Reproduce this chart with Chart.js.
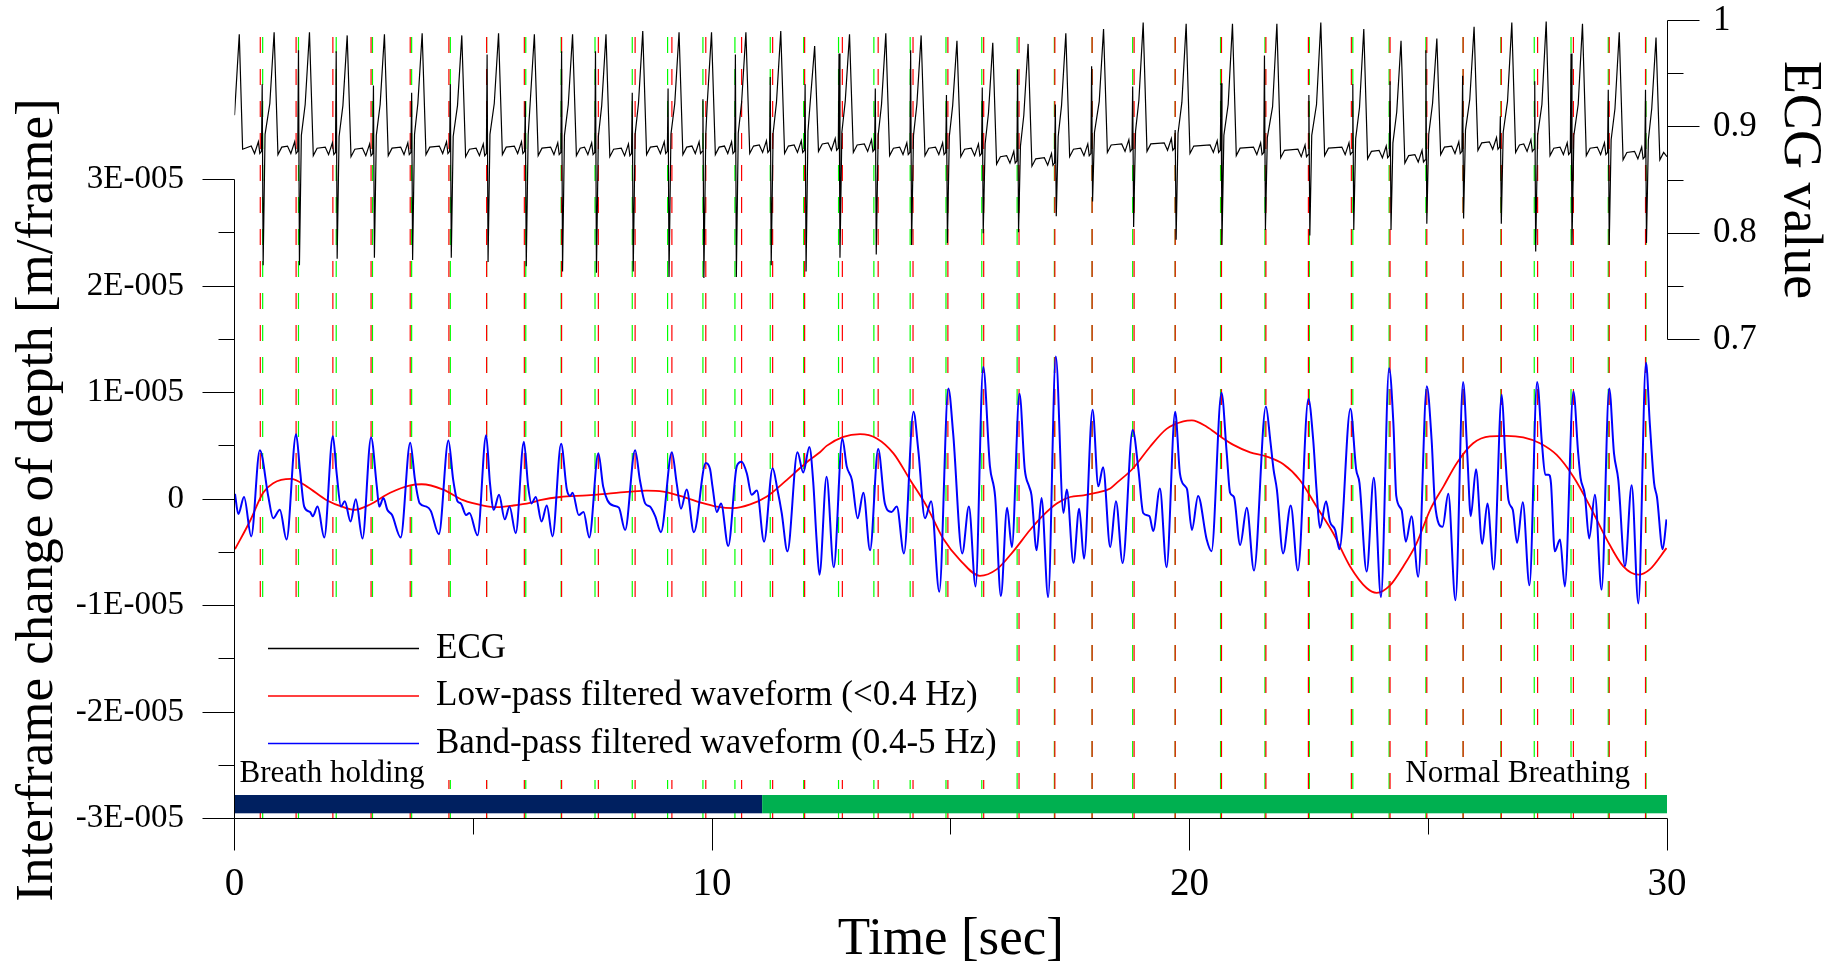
<!DOCTYPE html>
<html>
<head>
    <meta charset="UTF-8">
    <title>Interframe change of depth and ECG</title>
    <script src="https://cdn.jsdelivr.net/npm/chart.js"></script>
    <style>
        html, body { margin: 0; padding: 0; background: #fff; }
        #wrap { width: 1841px; height: 964px; position: relative; }
    </style>
</head>
<body>
<div id="wrap"><canvas id="depthChart"></canvas></div>

<script>
    // ---- data ----
    // depth values are in units of 1E-006 m/frame

    // band-pass filtered waveform (0.4-5 Hz)
    const bandPassTimes = [
        0.01, 0.08, 0.20, 0.35, 0.53, 0.71, 0.81, 0.95, 1.09, 1.29,
        1.37, 1.46, 1.58, 1.64, 1.74, 1.88, 2.06, 2.14, 2.23, 2.31,
        2.43, 2.54, 2.68, 2.86, 2.98, 3.03, 3.12, 3.20, 3.30, 3.48,
        3.68, 3.78, 3.88, 4.02, 4.11, 4.28, 4.48, 4.58, 4.67, 4.74,
        4.85, 4.92, 5.09, 5.27, 5.35, 5.43, 5.54, 5.66, 5.76, 5.89,
        6.06, 6.15, 6.22, 6.31, 6.43, 6.54, 6.66, 6.84, 6.96, 7.03,
        7.08, 7.21, 7.31, 7.43, 7.62, 7.72, 7.81, 7.93, 8.05, 8.18,
        8.39, 8.49, 8.60, 8.70, 8.81, 8.93, 9.16, 9.26, 9.35, 9.47,
        9.62, 9.87, 9.96, 10.01, 10.10, 10.19, 10.34, 10.52, 10.62, 10.73,
        10.83, 10.94, 11.09, 11.27, 11.37, 11.46, 11.58, 11.79, 11.91, 12.04,
        12.12, 12.19, 12.25, 12.40, 12.55, 12.73, 12.82, 12.93, 13.05, 13.17,
        13.31, 13.48, 13.62, 13.76, 13.87, 14.02, 14.22, 14.32, 14.46, 14.59,
        14.76, 14.95, 15.05, 15.24, 15.38, 15.52, 15.68, 15.82, 15.93, 16.05,
        16.18, 16.28, 16.44, 16.55, 16.64, 16.69, 16.80, 16.90, 17.04, 17.20,
        17.36, 17.43, 17.57, 17.69, 17.79, 17.97, 18.09, 18.19, 18.34, 18.46,
        18.60, 18.81, 18.93, 19.03, 19.16, 19.24, 19.38, 19.52, 19.70, 19.80,
        19.91, 19.95, 20.05, 20.18, 20.36, 20.46, 20.67, 20.78, 20.85, 20.93,
        21.06, 21.20, 21.35, 21.60, 21.69, 21.76, 21.83, 21.96, 22.12, 22.27,
        22.49, 22.59, 22.66, 22.73, 22.86, 22.94, 23.05, 23.14, 23.37, 23.49,
        23.56, 23.71, 23.86, 24.01, 24.18, 24.27, 24.33, 24.44, 24.53, 24.65,
        24.79, 24.97, 25.07, 25.14, 25.30, 25.42, 25.57, 25.73, 25.82, 25.89,
        26.00, 26.13, 26.24, 26.37, 26.54, 26.61, 26.68, 26.77, 26.86, 26.98,
        27.12, 27.28, 27.38, 27.45, 27.52, 27.57, 27.65, 27.76, 27.86, 28.04,
        28.14, 28.19, 28.28, 28.37, 28.49, 28.63, 28.79, 28.89, 28.98, 29.12,
        29.26, 29.40, 29.56, 29.64, 29.73, 29.79, 29.91, 29.99
    ];
    const bandPassValues = [
        0.5, -1.4, 0.2, -3.5, 4.6, 0.2, -1.8, -1.0, -3.8, 6.1,
        2.8, -0.7, -1.2, -1.6, -0.7, -3.6, 5.9, 2.4, -0.7, -0.2,
        -2.1, 0.0, -3.7, 5.8, 1.2, -0.7, 0.1, -1.0, -1.5, -3.6,
        5.3, 1.8, -0.4, -0.7, -1.1, -3.3, 5.5, 1.8, -0.2, -0.4,
        -1.5, -1.3, -3.4, 6.0, 1.5, -1.0, 0.4, -1.9, -0.7, -3.2,
        5.4, 1.2, -0.4, 0.2, -2.1, -0.6, -3.5, 5.2, 0.9, 0.3,
        0.6, -1.5, -1.2, -3.6, 4.3, 1.2, -0.1, -0.6, -0.8, -2.9,
        4.6, 1.8, -0.4, -0.7, -1.6, -3.1, 4.4, 1.5, -0.9, 0.9,
        -3.1, 3.4, 2.8, 1.2, -1.2, -0.4, -4.4, 3.1, 3.5, 2.4,
        0.4, 0.8, -4.0, 2.9, 0.9, -1.3, -4.9, 4.4, 2.5, 4.9,
        1.6, -3.8, -7.1, 2.1, -6.4, 5.7, 3.1, 1.8, -1.8, 0.6,
        -4.8, 4.7, -0.4, -1.2, -0.7, -5.1, 8.2, 4.6, -1.8, -0.2,
        -8.7, 10.4, 6.2, -5.1, -0.7, -8.2, 12.4, 3.1, 0.2, -9.1,
        -0.8, -4.5, 9.9, 2.8, 1.2, 0.4, -4.8, 0.1, -9.2, 13.4,
        -1.3, 0.9, -6.0, -0.9, -5.6, 8.4, 1.2, 3.0, -4.5, -0.2,
        -6.0, 6.5, 2.8, -1.3, -1.6, -3.0, 1.0, -6.4, 8.2, 2.4,
        1.2, 0.9, -2.9, 0.3, -3.8, -4.9, 10.0, 4.3, 0.6, 0.2,
        -4.3, -0.8, -6.7, 8.7, 5.6, 2.8, 0.9, -5.1, -0.6, -6.7,
        9.4, 5.6, 0.9, -2.7, -0.2, -2.1, -2.9, -4.7, 8.5, 2.8,
        1.5, -6.8, 2.0, -9.2, 12.3, 7.1, 0.3, -1.0, -4.0, -1.6,
        -7.3, 10.6, 5.6, -0.4, -2.6, 0.5, -9.5, 11.0, 4.0, -1.6,
        2.8, -4.2, -0.4, -6.6, 9.8, 4.3, -0.1, -1.0, -4.1, -0.3,
        -8.1, 11.0, 5.3, 2.3, 2.3, 1.5, -4.9, -3.8, -8.2, 10.1,
        4.3, 2.0, 0.4, -3.7, 0.4, -8.5, 10.4, 4.3, 1.8, -6.3,
        1.3, -9.8, 12.8, 7.1, 1.5, 0.2, -4.7, -1.9
    ];

    // low-pass filtered waveform (<0.4 Hz)
    const lowPassTimes = [
        0.01, 0.32, 0.60, 0.81, 1.18, 1.51, 1.93, 2.31, 2.52, 2.84,
        3.26, 3.68, 3.92, 4.37, 4.79, 5.21, 5.49, 5.84, 6.19, 6.40,
        6.82, 7.38, 7.79, 8.28, 8.63, 8.98, 9.33, 9.75, 10.10, 10.45,
        10.80, 11.15, 11.49, 11.84, 12.05, 12.26, 12.40, 12.75, 13.10, 13.45,
        13.80, 14.15, 14.50, 14.84, 15.19, 15.61, 15.96, 16.31, 16.66, 16.94,
        17.22, 17.50, 17.78, 18.06, 18.34, 18.47, 18.82, 19.17, 19.52, 19.87,
        20.05, 20.36, 20.64, 20.92, 21.27, 21.62, 21.96, 22.31, 22.66, 23.01,
        23.36, 23.71, 23.92, 24.20, 24.48, 24.76, 25.04, 25.32, 25.60, 25.94,
        26.29, 26.64, 26.99, 27.34, 27.69, 28.04, 28.39, 28.74, 29.08, 29.40,
        29.64, 29.99
    ];
    const lowPassValues = [
        -4.7, -2.1, 0.6, 1.5, 1.9, 1.2, -0.1, -0.8, -1.0, -0.5,
        0.6, 1.3, 1.4, 0.9, -0.1, -0.6, -0.75, -0.6, -0.35, -0.1,
        0.2, 0.35, 0.5, 0.7, 0.8, 0.7, 0.3, -0.3, -0.7, -0.85,
        -0.5, 0.25, 1.5, 2.9, 3.7, 4.4, 5.0, 5.85, 6.1, 5.7,
        4.3, 1.8, -0.7, -3.7, -5.7, -7.2, -6.6, -4.9, -2.9, -1.5,
        -0.4, 0.2, 0.35, 0.6, 1.0, 1.5, 2.9, 4.9, 6.6, 7.3,
        7.4, 6.8, 5.9, 5.1, 4.4, 4.0, 3.3, 1.8, -0.7, -3.2,
        -6.3, -8.35, -8.8, -8.1, -6.3, -4.1, -1.0, 1.2, 3.4, 5.25,
        5.9, 5.95, 5.8, 5.25, 4.15, 2.1, -0.7, -3.8, -6.3, -7.1,
        -6.6, -4.6
    ];

    // ECG, one entry per heart beat (times in s, values on the ECG axis)
    const ecgBeatTimes = [
        0.59, 1.35, 2.14, 2.92, 3.72, 4.53, 5.30, 6.10, 6.86, 7.57, 8.34, 9.09, 9.82,
        10.50, 11.23, 11.96, 12.67, 13.43, 14.17, 14.92, 15.67, 16.41, 17.20, 17.96, 18.82, 19.71,
        20.67, 21.58, 22.51, 23.43, 24.21, 24.96, 25.73, 26.52, 27.24, 28.00, 28.78, 29.56
    ];
    const ecgRValues = [
        0.940, 0.972, 0.971, 0.939, 0.932, 0.940, 0.968, 0.924, 0.971, 0.971, 0.932, 0.936, 0.926,
        0.968, 0.947, 0.940, 0.969, 0.936, 0.972, 0.930, 0.937, 0.954, 0.921, 0.957, 0.938, 0.897,
        0.941, 0.967, 0.930, 0.940, 0.943, 0.972, 0.948, 0.910, 0.943, 0.969, 0.935, 0.935
    ];
    const ecgSValues = [
        0.770, 0.770, 0.776, 0.777, 0.775, 0.777, 0.773, 0.769, 0.764, 0.763, 0.764, 0.759, 0.758,
        0.759, 0.770, 0.764, 0.777, 0.780, 0.789, 0.791, 0.800, 0.801, 0.816, 0.830, 0.806, 0.794,
        0.789, 0.803, 0.798, 0.803, 0.803, 0.809, 0.814, 0.809, 0.783, 0.789, 0.789, 0.791
    ];
    const ecgPeakTimes = [
        0.83, 1.57, 2.36, 3.14, 3.93, 4.76, 5.53, 6.28, 7.08, 7.78, 8.55, 9.31, 9.99,
        10.71, 11.44, 12.15, 12.88, 13.64, 14.38, 15.13, 15.88, 16.62, 17.41, 18.20, 19.03, 19.93,
        20.90, 21.83, 22.75, 23.65, 24.43, 25.18, 25.96, 26.75, 27.47, 28.23, 29.00, 29.77
    ];
    const ecgPeakValues = [
        0.989, 0.989, 0.986, 0.987, 0.988, 0.986, 0.988, 0.987, 0.987, 0.987, 0.990, 0.989, 0.989,
        0.989, 0.990, 0.976, 0.987, 0.988, 0.986, 0.981, 0.979, 0.978, 0.988, 0.992, 0.998, 0.997,
        0.997, 0.997, 0.998, 0.992, 0.981, 0.983, 0.994, 0.998, 0.999, 0.997, 0.989, 0.984
    ];
    // resting level before the first beat and after each beat
    const ecgBaseline = [
        0.877,
        0.877, 0.876, 0.875, 0.876, 0.877, 0.875, 0.877, 0.876, 0.876, 0.875, 0.877, 0.877, 0.877,
        0.878, 0.878, 0.880, 0.879, 0.876, 0.876, 0.875, 0.868, 0.866, 0.875, 0.879, 0.880, 0.878,
        0.876, 0.874, 0.876, 0.873, 0.869, 0.877, 0.881, 0.879, 0.876, 0.876, 0.872, 0.872
    ];
    // partial beat at the very start of the trace
    const ecgStartTimes = [0, 0.10, 0.17];
    const ecgStartValues = [0.911, 0.987, 0.879];

    // beat markers (dashed vertical lines)
    const redBeatTimes = [
        0.54, 1.29, 2.06, 2.86, 3.68, 4.49, 5.28, 6.07, 6.85, 7.62, 8.39, 9.16, 9.87,
        10.62, 11.27, 11.94, 12.73, 13.48, 14.21, 14.94, 15.69, 16.43, 17.18, 17.96, 18.84, 19.70,
        20.67, 21.60, 22.49, 23.39, 24.20, 24.97, 25.73, 26.53, 27.29, 28.04, 28.79, 29.55
    ];
    const greenBeatTimes = [
        0.59, 1.34, 2.13, 2.89, 3.71, 4.52, 5.28, 6.10, 6.84, 7.55, 8.33, 9.07, 9.81,
        10.48, 11.22, 11.92, 12.65, 13.39, 14.15, 14.90, 15.65, 16.39, 17.17, 17.96, 18.81, 19.70,
        20.65, 21.58, 22.51, 23.42, 24.18, 24.95, 25.73, 26.52, 27.22, 27.99, 28.77, 29.56
    ];

    // breathing phases shown as a bar along the time axis
    const phaseNames = ['Breath holding', 'Normal Breathing'];
    const phaseStart = [0, 11.05];
    const phaseEnd = [11.05, 30];
    const phaseColors = ['#002060', '#00B050'];

    // tick labels
    const depthTickValues = [-30, -20, -10, 0, 10, 20, 30];
    const depthTickLabels = ['-3E-005', '-2E-005', '-1E-005', '0', '1E-005', '2E-005', '3E-005'];
    const ecgTickValues = [0.7, 0.8, 0.9, 1];
    const ecgTickLabels = ['0.7', '0.8', '0.9', '1'];
    const timeTickValues = [0, 10, 20, 30];
    const timeTickLabels = ['0', '10', '20', '30'];

    const xTitle = 'Time [sec]';
    const yTitle = 'Interframe change of depth [m/frame]';
    const y2Title = 'ECG value';

    // ---- helpers ----
    const SERIF = '"Liberation Serif", "Times New Roman", serif';
    const MARKER_TOP = 43.4;   // markers start just under the top of the ECG

    function toPoints(xs, ys) {
        return xs.map((t, i) => ({ x: t, y: ys[i] }));
    }

    function labelFor(values, labels, v) {
        const i = values.findIndex(t => Math.abs(t - v) < 1e-6);
        return i < 0 ? '' : labels[i];
    }

    // one vertical line per beat, broken apart by null points
    function markerLines(times) {
        const pts = [];
        times.forEach(t => {
            pts.push({ x: t, y: MARKER_TOP }, { x: t, y: -30 }, { x: t, y: null });
        });
        return pts;
    }

    // ECG trace: each beat = small notch, R/S spike, slow rise, sharp peak, back to rest
    function buildEcg() {
        const pts = toPoints(ecgStartTimes, ecgStartValues);
        for (let i = 0; i < ecgBeatTimes.length; i++) {
            const td = ecgBeatTimes[i], tp = ecgPeakTimes[i];
            const b0 = ecgBaseline[i], b1 = ecgBaseline[i + 1];
            pts.push({ x: td - 0.24, y: b0 + 0.005 });
            pts.push({ x: td - 0.17, y: b0 - 0.002 });
            pts.push({ x: td - 0.09, y: b0 + 0.009 });
            pts.push({ x: td - 0.06, y: b0 - 0.002 });
            pts.push({ x: td - 0.025, y: b0 });
            pts.push({ x: td - 0.01, y: ecgRValues[i] });
            pts.push({ x: td + 0.01, y: ecgSValues[i] });
            pts.push({ x: td + 0.05, y: b1 + 0.016 });
            pts.push({ x: tp - 0.09, y: b1 + 0.045 });
            pts.push({ x: tp, y: ecgPeakValues[i] });
            pts.push({ x: tp + 0.08, y: b1 - 0.003 });
            pts.push({ x: tp + 0.16, y: b1 + 0.004 });
        }
        pts.push({ x: 30, y: ecgBaseline[ecgBaseline.length - 1] });
        return pts;
    }

    function crisp(v) {
        return Math.round(v - 0.5) + 0.5;
    }

    // fixed axis boxes so the plot area lands where the original has it
    function fixBox(size, key) {
        return s => {
            s[key] = size;
            s.paddingTop = 0;
            s.paddingBottom = 0;
            s.paddingLeft = 0;
            s.paddingRight = 0;
        };
    }

    // legend, phase bar, axes and titles drawn on top of the datasets
    const overlayPlugin = {
        id: 'overlay',
        afterDatasetsDraw(chart) {
            const { ctx, chartArea: area, scales: { x, y, y2 } } = chart;
            ctx.save();

            // white legend box hides the beat markers behind it
            ctx.fillStyle = '#ffffff';
            ctx.fillRect(area.left + 1, 610, 772, 170);

            // phase bars
            phaseNames.forEach((name, i) => {
                const x0 = x.getPixelForValue(phaseStart[i]);
                const x1 = x.getPixelForValue(phaseEnd[i]);
                ctx.fillStyle = phaseColors[i];
                ctx.fillRect(x0, area.bottom - 23.5, x1 - x0, 18.3);
            });

            // phase labels
            ctx.font = '31px ' + SERIF;
            ctx.textBaseline = 'alphabetic';
            ctx.textAlign = 'left';
            phaseNames.forEach((name, i) => {
                const w = ctx.measureText(name).width;
                const tx = i === 0
                    ? x.getPixelForValue(phaseStart[i]) + 5
                    : x.getPixelForValue(phaseEnd[i]) - 37 - w;
                ctx.fillStyle = '#ffffff';
                ctx.fillRect(tx - 3, 759, w + 6, 32);
                ctx.fillStyle = '#000000';
                ctx.fillText(name, tx, 781.7);
            });

            // legend entries
            ctx.font = '35px ' + SERIF;
            ctx.textBaseline = 'middle';
            chart.data.datasets.filter(d => d.inLegend).forEach((d, i) => {
                const ly = 648.5 + i * 47.5;
                ctx.strokeStyle = d.borderColor;
                ctx.lineWidth = 1.3;
                ctx.beginPath();
                ctx.moveTo(268, ly);
                ctx.lineTo(419, ly);
                ctx.stroke();
                ctx.fillStyle = '#000000';
                ctx.fillText(d.label, 436, ly);
            });

            // axes with major / minor ticks
            ctx.strokeStyle = '#000000';
            ctx.lineWidth = 1;
            const seg = (x0, y0, x1, y1) => {
                ctx.beginPath();
                ctx.moveTo(x0, y0);
                ctx.lineTo(x1, y1);
                ctx.stroke();
            };
            const ax = crisp(area.left), rx = crisp(area.right), by = crisp(area.bottom);

            seg(ax, crisp(y.getPixelForValue(30)), ax, by);
            for (let v = -30; v <= 30; v += 5) {
                const py = crisp(y.getPixelForValue(v));
                seg(ax - (v % 10 === 0 ? 32 : 16), py, ax, py);
            }

            seg(rx, crisp(y2.getPixelForValue(1)), rx, crisp(y2.getPixelForValue(0.7)));
            for (let k = 14; k <= 20; k++) {
                const py = crisp(y2.getPixelForValue(k / 20));
                seg(rx, py, rx + (k % 2 === 0 ? 32 : 16), py);
            }

            seg(ax, by, rx, by);
            for (let t = 0; t <= 30; t += 5) {
                const px = crisp(x.getPixelForValue(t));
                seg(px, by, px, by + (t % 10 === 0 ? 32 : 16));
            }

            // axis titles
            ctx.fillStyle = '#000000';
            ctx.textAlign = 'center';
            ctx.textBaseline = 'alphabetic';
            ctx.font = '53px ' + SERIF;
            ctx.fillText(xTitle, (area.left + area.right) / 2, 954);

            ctx.save();
            ctx.translate(51.7, 500);
            ctx.rotate(-Math.PI / 2);
            ctx.fillText(yTitle, 0, 0);
            ctx.restore();

            ctx.font = '54px ' + SERIF;
            ctx.save();
            ctx.translate(1785, (y2.getPixelForValue(1) + y2.getPixelForValue(0.7)) / 2);
            ctx.rotate(Math.PI / 2);
            ctx.fillText(y2Title, 0, 0);
            ctx.restore();

            ctx.restore();
        }
    };

    Chart.defaults.font.family = SERIF;
    Chart.defaults.color = '#000000';

    const ctx = document.getElementById('depthChart').getContext('2d');
    const chart = new Chart(ctx, {
        type: 'line',
        data: {
            datasets: [
                {
                    label: 'ECG',
                    data: buildEcg(),
                    yAxisID: 'y2',
                    borderColor: '#000000',
                    borderWidth: 1.2,
                    tension: 0,
                    order: 2,
                    inLegend: true
                },
                {
                    label: 'Low-pass filtered waveform (<0.4 Hz)',
                    data: toPoints(lowPassTimes, lowPassValues),
                    yAxisID: 'y',
                    borderColor: '#ff0000',
                    borderWidth: 1.8,
                    cubicInterpolationMode: 'monotone',
                    order: 1,
                    inLegend: true
                },
                {
                    label: 'Band-pass filtered waveform (0.4-5 Hz)',
                    data: toPoints(bandPassTimes, bandPassValues),
                    yAxisID: 'y',
                    borderColor: '#0000ff',
                    borderWidth: 2,
                    cubicInterpolationMode: 'monotone',
                    order: 0,
                    inLegend: true
                },
                {
                    label: 'red markers',
                    data: markerLines(redBeatTimes),
                    yAxisID: 'y',
                    borderColor: '#ff0000',
                    borderWidth: 1.2,
                    borderDash: [16, 16],
                    borderCapStyle: 'butt',
                    spanGaps: false,
                    order: 3
                },
                {
                    label: 'green markers',
                    data: markerLines(greenBeatTimes),
                    yAxisID: 'y',
                    borderColor: '#00ff00',
                    borderWidth: 1.2,
                    borderDash: [16, 16],
                    borderCapStyle: 'butt',
                    spanGaps: false,
                    order: 4
                }
            ]
        },
        options: {
            animation: false,
            responsive: true,
            maintainAspectRatio: false,
            devicePixelRatio: 1,
            layout: { padding: { top: 20.5, left: 0, right: 0, bottom: 0 } },
            elements: { point: { radius: 0 } },
            plugins: {
                legend: { display: false },
                tooltip: { enabled: false }
            },
            scales: {
                x: {
                    type: 'linear',
                    position: 'bottom',
                    min: 0,
                    max: 30,
                    grid: { display: false, drawTicks: false },
                    border: { display: false },
                    ticks: {
                        stepSize: 10,
                        autoSkip: false,
                        maxRotation: 0,
                        padding: 43,
                        font: { size: 39, lineHeight: 1.2 },
                        callback: v => labelFor(timeTickValues, timeTickLabels, v)
                    },
                    afterFit: fixBox(145.5, 'height')
                },
                y: {
                    type: 'linear',
                    position: 'left',
                    min: -30,
                    max: 44.96,
                    grid: { display: false, drawTicks: false },
                    border: { display: false },
                    ticks: {
                        stepSize: 10,
                        autoSkip: false,
                        padding: 50.5,
                        font: { size: 33 },
                        callback: v => labelFor(depthTickValues, depthTickLabels, v)
                    },
                    afterFit: fixBox(234.5, 'width')
                },
                y2: {
                    type: 'linear',
                    position: 'right',
                    min: 0.25,
                    max: 1,
                    grid: { display: false, drawTicks: false },
                    border: { display: false },
                    ticks: {
                        stepSize: 0.1,
                        autoSkip: false,
                        padding: 46,
                        font: { size: 35 },
                        callback: v => labelFor(ecgTickValues, ecgTickLabels, v)
                    },
                    afterFit: fixBox(174, 'width')
                }
            }
        },
        plugins: [overlayPlugin]
    });
</script>
</body>
</html>
